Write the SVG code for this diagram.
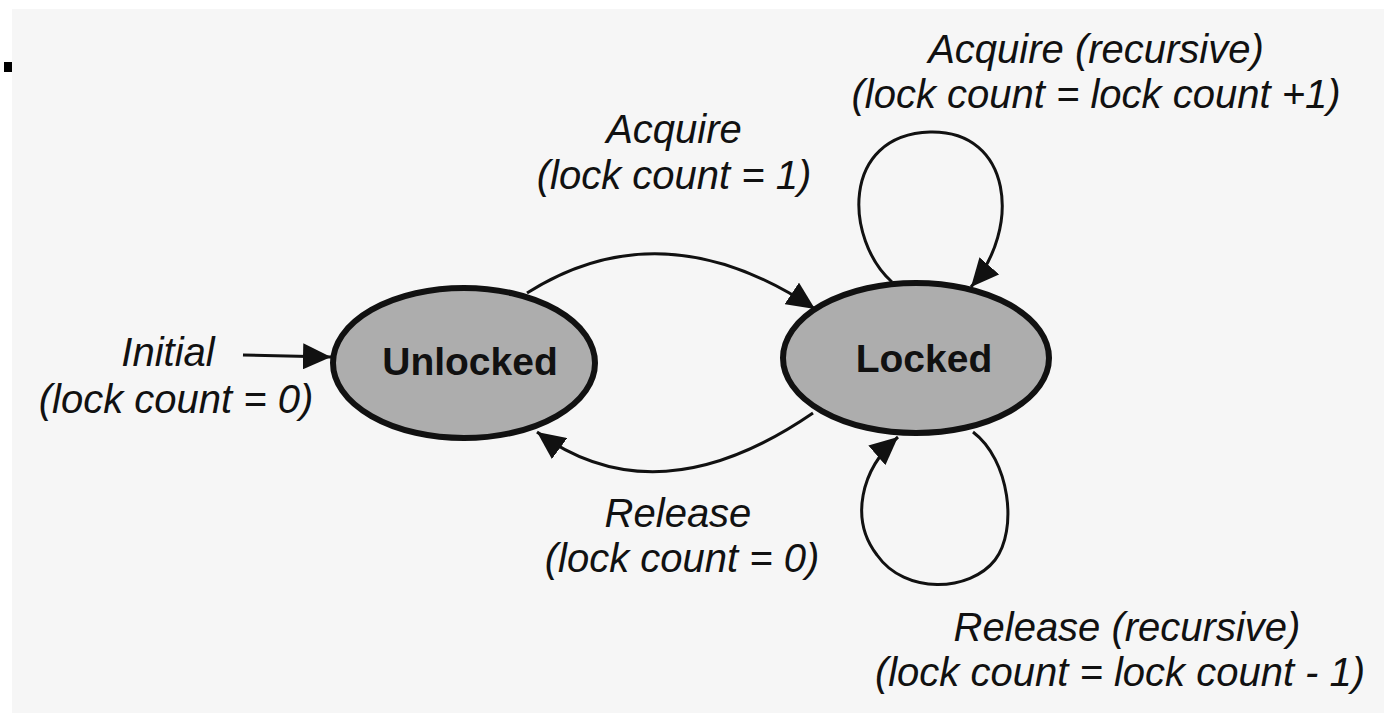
<svg xmlns="http://www.w3.org/2000/svg" width="1384" height="713" viewBox="0 0 1384 713">
  <style>
    .lbl { font-family: "Liberation Sans", Arial, sans-serif; font-style: italic; font-size: 40px; fill: #111; text-anchor: middle; }
    .state { fill: #adadad; stroke: #111; stroke-width: 6; }
    .name { font-family: "Liberation Sans", Arial, sans-serif; font-weight: bold; font-size: 39px; fill: #111; text-anchor: middle; }
    .edge { fill: none; stroke: #111; stroke-width: 3; marker-end: url(#arrow); }
  </style>
  <defs>
    <marker id="arrow" markerUnits="userSpaceOnUse" markerWidth="30" markerHeight="26" viewBox="0 0 30 26" refX="28" refY="13" orient="auto">
      <path d="M0,0 L28,13 L0,26 Z" fill="#111"/>
    </marker>
  </defs>
  <rect x="0" y="0" width="1384" height="713" fill="#ffffff"/>
  <rect x="12" y="9" width="1372" height="704" fill="#f6f6f6"/>
  <rect x="4" y="62" width="8" height="10" fill="#000"/>

  <g id="connectors">
    <path id="e-initial" class="edge" d="M243,355 L331,357"/>
    <path id="e-acquire" class="edge" d="M527,293 Q663,207 815,309"/>
    <path id="e-release" class="edge" d="M813,413 Q657,520 537,432"/>
    <path id="e-acq-rec" class="edge" d="M892,282 C845,240 840,135 930,132 C1012,130 1022,228 971,287"/>
    <path id="e-rel-rec" class="edge" d="M973,432 C1010,460 1018,530 995,560 C970,592 905,595 877,555 C850,520 860,470 898,437"/>
  </g>

  <g id="node-unlocked">
    <ellipse class="state" cx="464" cy="363" rx="131" ry="75"/>
    <text class="name" x="470" y="375">Unlocked</text>
  </g>
  <g id="node-locked">
    <ellipse class="state" cx="916" cy="358" rx="133" ry="75"/>
    <text class="name" x="924" y="372">Locked</text>
  </g>

  <g id="labels">
    <text class="lbl" x="1096" y="63">Acquire (recursive)</text>
    <text class="lbl" x="1096" y="108">(lock count = lock count +1)</text>
    <text class="lbl" x="674" y="143">Acquire</text>
    <text class="lbl" x="674" y="189">(lock count = 1)</text>
    <text class="lbl" x="168" y="366">Initial</text>
    <text class="lbl" x="176" y="413">(lock count = 0)</text>
    <text class="lbl" x="678" y="527">Release</text>
    <text class="lbl" x="682" y="572">(lock count = 0)</text>
    <text class="lbl" x="1127" y="641">Release (recursive)</text>
    <text class="lbl" x="1120" y="686">(lock count = lock count - 1)</text>
  </g>
</svg>
